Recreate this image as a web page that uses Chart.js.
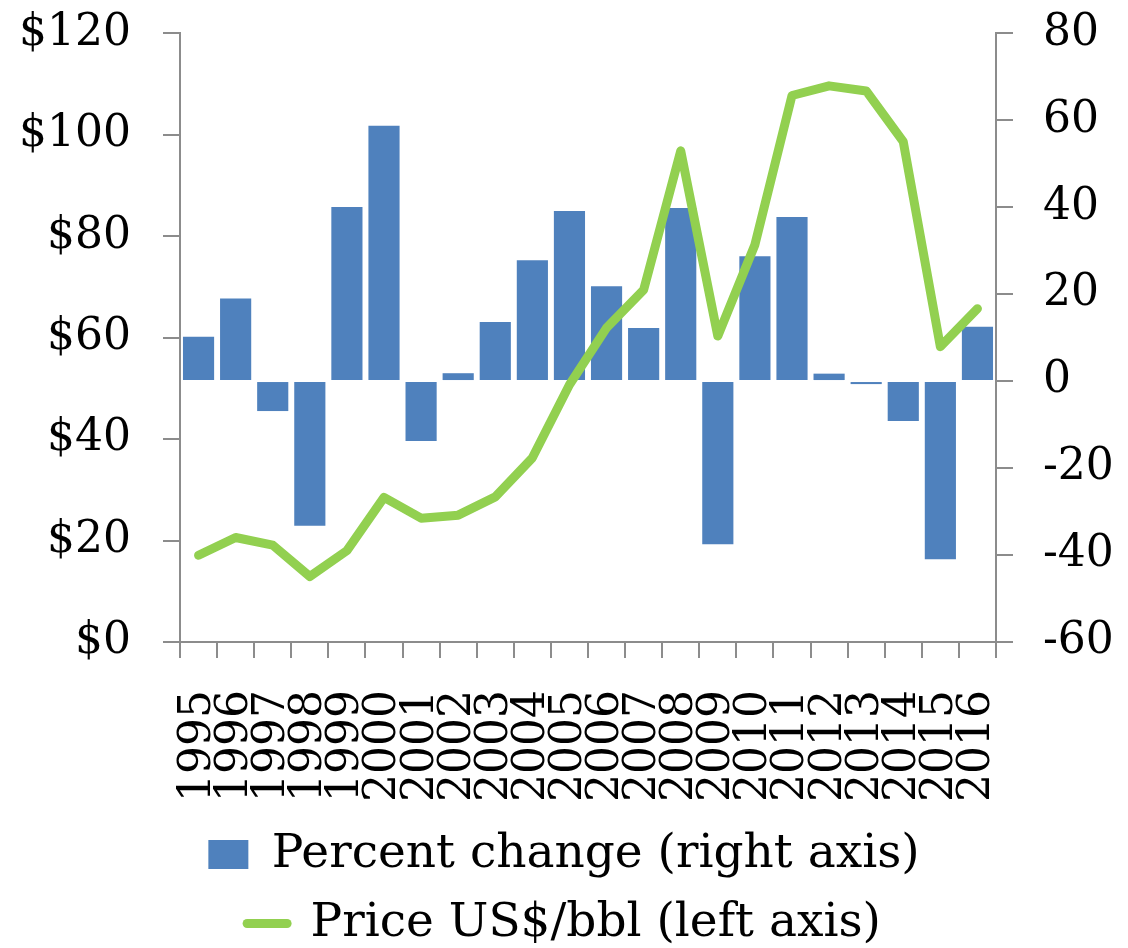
<!DOCTYPE html>
<html>
<head>
<meta charset="utf-8">
<script src="https://cdn.jsdelivr.net/npm/chart.js@4.4.1/dist/chart.umd.min.js"></script>
<style>
  body { margin: 0; background: #fff; }
</style>
</head>
<body>
<canvas id="chart-oil" width="1128" height="948"></canvas>
<script>
// years on the x axis
const years = ['1995','1996','1997','1998','1999','2000','2001','2002','2003','2004','2005',
               '2006','2007','2008','2009','2010','2011','2012','2013','2014','2015','2016'];
// percent change, right axis (bars)
const pctChange = [10.2, 19.0, -6.9, -33.3, 40.0, 58.7, -13.8, 1.8, 13.6, 27.8, 39.1,
                   21.8, 12.2, 39.8, -37.5, 28.7, 37.7, 1.7, -0.7, -9.2, -41.0, 12.5];
// price US$/bbl, left axis (line)
const price = [17.1, 20.6, 19.1, 12.9, 18.0, 28.5, 24.4, 25.0, 28.6, 36.3, 50.7,
               61.9, 69.4, 96.8, 60.3, 78.3, 107.7, 109.6, 108.6, 98.6, 58.2, 65.7];

const leftMin = 0, leftMax = 120, leftStep = 20;
const rightMin = -60, rightMax = 80, rightStep = 20;

const axisGray = '#8c8c8c';
const xFont = { family: 'DejaVu Serif', size: 44 };
// small lineHeight so the top label does not push the plot down
const yFont = { family: 'DejaVu Serif', size: 44, lineHeight: 0.05 };

var ctx = document.getElementById('chart-oil').getContext('2d');
var chart_oil = new Chart(ctx, {
    type: 'bar',
    data: {
        labels: years,
        datasets: [{
            type: 'bar',
            label: 'Percent change (right axis)',
            data: pctChange,
            yAxisID: 'y1',
            backgroundColor: '#4F81BD',
            borderWidth: 0,
            categoryPercentage: 1.0,
            barPercentage: 0.84,
            order: 1
        }, {
            type: 'line',
            label: 'Price US$/bbl (left axis)',
            data: price,
            yAxisID: 'y',
            borderColor: '#92D050',
            backgroundColor: '#92D050',
            borderWidth: 9,
            borderCapStyle: 'round',
            borderJoinStyle: 'round',
            pointRadius: 0,
            tension: 0,
            fill: false,
            order: 0
        }]
    },
    options: {
        responsive: false,
        devicePixelRatio: 1,
        animation: false,
        layout: { padding: { left: 0, right: 0, top: 0, bottom: -9 } },
        plugins: {
            tooltip: { enabled: false },
            legend: {
                position: 'bottom',
                labels: {
                    color: '#000',
                    font: { family: 'DejaVu Serif', size: 47 },
                    usePointStyle: true,
                    pointStyleWidth: 40,
                    boxHeight: 29,
                    padding: 22,
                    generateLabels: function (chart) {
                        return [{
                            text: 'Percent change (right axis)',
                            fillStyle: '#4F81BD',
                            strokeStyle: '#4F81BD',
                            lineWidth: 0,
                            pointStyle: 'rect',
                            datasetIndex: 0
                        }, {
                            text: 'Price US$/bbl (left axis)',
                            fillStyle: '#92D050',
                            strokeStyle: '#92D050',
                            lineWidth: 9,
                            lineCap: 'round',
                            pointStyle: 'line',
                            datasetIndex: 1
                        }];
                    }
                }
            }
        },
        scales: {
            x: {
                offset: true,
                afterFit: function (scale) { scale.height = 167; },
                grid: {
                    offset: true,
                    drawOnChartArea: false,
                    drawTicks: true,
                    tickLength: 16,
                    color: axisGray,
                    lineWidth: 2
                },
                border: { color: axisGray, width: 2 },
                ticks: {
                    color: '#000',
                    font: xFont,
                    minRotation: 90,
                    maxRotation: 90,
                    autoSkip: false,
                    padding: 32
                }
            },
            y: {
                position: 'left',
                min: leftMin,
                max: leftMax,
                afterFit: function (scale) { scale.width = 180; },
                grid: {
                    drawOnChartArea: false,
                    drawTicks: true,
                    tickLength: 17,
                    color: axisGray,
                    lineWidth: 2
                },
                border: { color: axisGray, width: 2 },
                ticks: {
                    stepSize: leftStep,
                    color: '#000',
                    font: yFont,
                    padding: 32,
                    callback: function (v) { return '$' + v; }
                }
            },
            y1: {
                position: 'right',
                min: rightMin,
                max: rightMax,
                afterFit: function (scale) { scale.width = 132; },
                grid: {
                    drawOnChartArea: false,
                    drawTicks: true,
                    tickLength: 17,
                    color: axisGray,
                    lineWidth: 2
                },
                border: { color: axisGray, width: 2 },
                ticks: {
                    stepSize: rightStep,
                    color: '#000',
                    font: yFont,
                    padding: 30
                }
            }
        }
    }
});
</script>
</body>
</html>
